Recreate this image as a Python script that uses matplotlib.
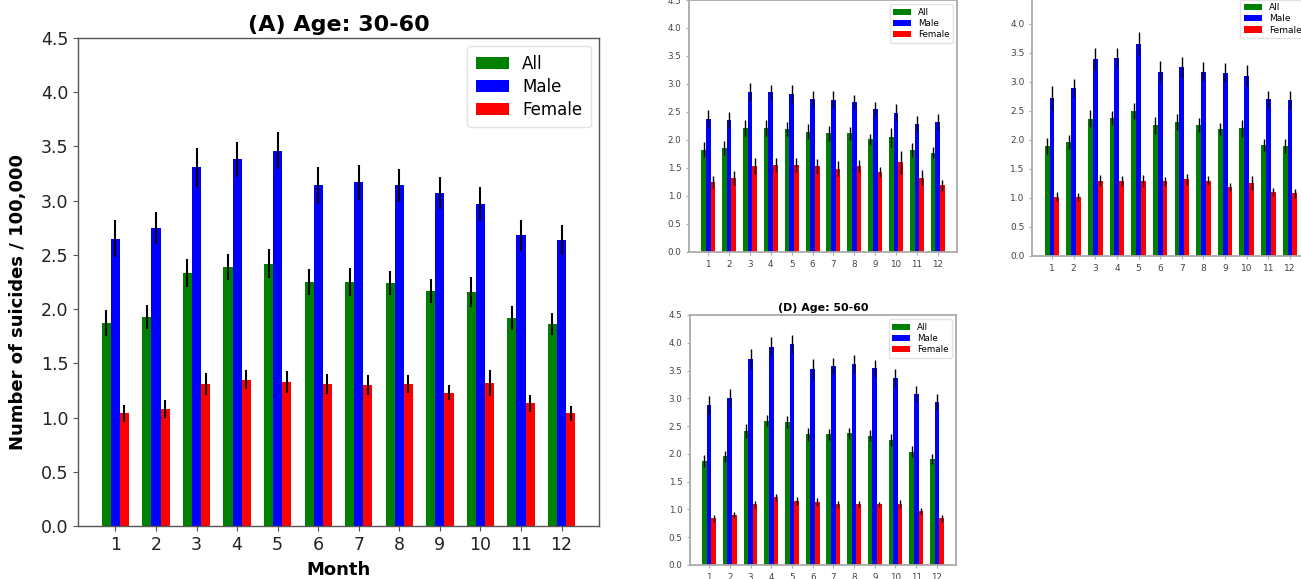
import numpy as np
import matplotlib
matplotlib.use('Agg')
import matplotlib.pyplot as plt

months = list(range(1, 13))
series_names = ['All', 'Male', 'Female']
colors = ['green', 'blue', 'red']

# (A) Age: 30-60
a_all = [1.87, 1.93, 2.33, 2.39, 2.42, 2.25, 2.25, 2.24, 2.17, 2.16, 1.92, 1.86]
a_male = [2.65, 2.75, 3.31, 3.38, 3.46, 3.14, 3.17, 3.14, 3.07, 2.97, 2.68, 2.64]
a_female = [1.04, 1.08, 1.31, 1.35, 1.33, 1.31, 1.30, 1.31, 1.23, 1.32, 1.13, 1.04]
a_all_err = [0.12, 0.11, 0.13, 0.12, 0.13, 0.12, 0.13, 0.11, 0.11, 0.14, 0.11, 0.10]
a_male_err = [0.17, 0.15, 0.18, 0.16, 0.17, 0.17, 0.16, 0.15, 0.15, 0.16, 0.14, 0.14]
a_female_err = [0.08, 0.08, 0.10, 0.09, 0.10, 0.09, 0.09, 0.08, 0.07, 0.12, 0.08, 0.07]

# (B) Age: 30-40
b_all = [1.83, 1.86, 2.21, 2.21, 2.20, 2.15, 2.12, 2.12, 2.01, 2.05, 1.82, 1.77]
b_male = [2.38, 2.36, 2.85, 2.85, 2.82, 2.73, 2.72, 2.68, 2.55, 2.49, 2.28, 2.32]
b_female = [1.25, 1.32, 1.54, 1.55, 1.55, 1.53, 1.49, 1.53, 1.43, 1.60, 1.33, 1.19]
b_all_err = [0.13, 0.12, 0.14, 0.14, 0.13, 0.13, 0.13, 0.12, 0.10, 0.17, 0.13, 0.10]
b_male_err = [0.15, 0.14, 0.16, 0.14, 0.16, 0.14, 0.15, 0.13, 0.12, 0.15, 0.14, 0.14]
b_female_err = [0.10, 0.13, 0.14, 0.13, 0.13, 0.13, 0.13, 0.11, 0.09, 0.20, 0.13, 0.10]

# (C) Age: 40-50
c_all = [1.89, 1.97, 2.37, 2.38, 2.50, 2.25, 2.31, 2.26, 2.19, 2.20, 1.91, 1.90]
c_male = [2.72, 2.90, 3.40, 3.42, 3.66, 3.17, 3.25, 3.18, 3.16, 3.11, 2.70, 2.69]
c_female = [1.02, 1.02, 1.30, 1.29, 1.29, 1.29, 1.32, 1.30, 1.19, 1.26, 1.10, 1.08]
c_all_err = [0.14, 0.12, 0.14, 0.12, 0.14, 0.14, 0.13, 0.12, 0.11, 0.14, 0.10, 0.12]
c_male_err = [0.21, 0.16, 0.19, 0.16, 0.20, 0.19, 0.18, 0.17, 0.16, 0.18, 0.15, 0.16]
c_female_err = [0.08, 0.07, 0.10, 0.09, 0.10, 0.08, 0.09, 0.08, 0.07, 0.12, 0.07, 0.08]

# (D) Age: 50-60
d_all = [1.87, 1.96, 2.41, 2.60, 2.58, 2.35, 2.35, 2.37, 2.33, 2.25, 2.04, 1.90]
d_male = [2.88, 3.00, 3.71, 3.93, 3.98, 3.52, 3.58, 3.62, 3.54, 3.36, 3.08, 2.93]
d_female = [0.84, 0.90, 1.09, 1.22, 1.15, 1.13, 1.09, 1.10, 1.09, 1.10, 0.97, 0.84]
d_all_err = [0.11, 0.10, 0.12, 0.10, 0.11, 0.11, 0.10, 0.10, 0.10, 0.11, 0.10, 0.09]
d_male_err = [0.17, 0.16, 0.18, 0.17, 0.16, 0.18, 0.14, 0.16, 0.15, 0.16, 0.14, 0.14]
d_female_err = [0.06, 0.06, 0.07, 0.06, 0.07, 0.07, 0.07, 0.06, 0.05, 0.07, 0.06, 0.06]

fig = plt.figure(figsize=(13.01, 5.79), dpi=100)


def draw_panel(ax, title, vals, errs, fs, big=False):
    x = np.array(months)
    w = 0.225
    spine_col = '#555555' if big else '#aaaaaa'
    lw_err = 1.5 if big else 1.0
    for i, (v, e, c, name) in enumerate(zip(vals, errs, colors, series_names)):
        ax.bar(x + (i - 1) * w, v, w, yerr=e, color=c, label=name,
               error_kw=dict(ecolor='black', elinewidth=lw_err, capsize=0))
    ax.set_ylim(0, 4.5)
    ax.set_yticks(np.arange(0, 4.6, 0.5))
    ax.set_xticks(x)
    ax.tick_params(labelsize=fs, color=spine_col, length=3.5 if big else 2,
                   labelcolor='#222222' if big else '#444444')
    for s in ax.spines.values():
        s.set_color(spine_col)
        s.set_linewidth(1.0 if big else 1.3)
    ax.set_title(title, fontsize=16 if big else fs * 1.25, fontweight='bold',
                 pad=5 if big else 3)
    leg = ax.legend(fontsize=fs if not big else 12, loc='upper right',
                    handlelength=2.0,
                    labelspacing=0.3 if big else 0.25,
                    borderpad=0.5 if big else 0.4)
    leg.get_frame().set_edgecolor('#dddddd')


ax_a = fig.add_axes([0.05995, 0.09154, 0.40046, 0.84283])
draw_panel(ax_a, '(A) Age: 30-60', [a_all, a_male, a_female],
           [a_all_err, a_male_err, a_female_err], 12.5, big=True)
ax_a.set_xlabel('Month', fontsize=13, fontweight='bold')
ax_a.set_ylabel('Number of suicides / 100,000', fontsize=13,
                fontweight='bold')
ax_a.xaxis.set_label_coords(0.5, -0.071)
ax_a.yaxis.set_label_coords(-0.098, 0.46)

ax_b = fig.add_axes([0.52959, 0.56477, 0.20600, 0.43523])
draw_panel(ax_b, '(B) Age: 30-40', [b_all, b_male, b_female],
           [b_all_err, b_male_err, b_female_err], 6.3)

ax_c = fig.add_axes([0.79324, 0.55786, 0.21368, 0.45078])
draw_panel(ax_c, '(C) Age: 40-50', [c_all, c_male, c_female],
           [c_all_err, c_male_err, c_female_err], 6.5)

ax_d = fig.add_axes([0.53036, 0.02418, 0.20446, 0.43178])
draw_panel(ax_d, '(D) Age: 50-60', [d_all, d_male, d_female],
           [d_all_err, d_male_err, d_female_err], 6.3)

fig.savefig('out.png', dpi=100)
